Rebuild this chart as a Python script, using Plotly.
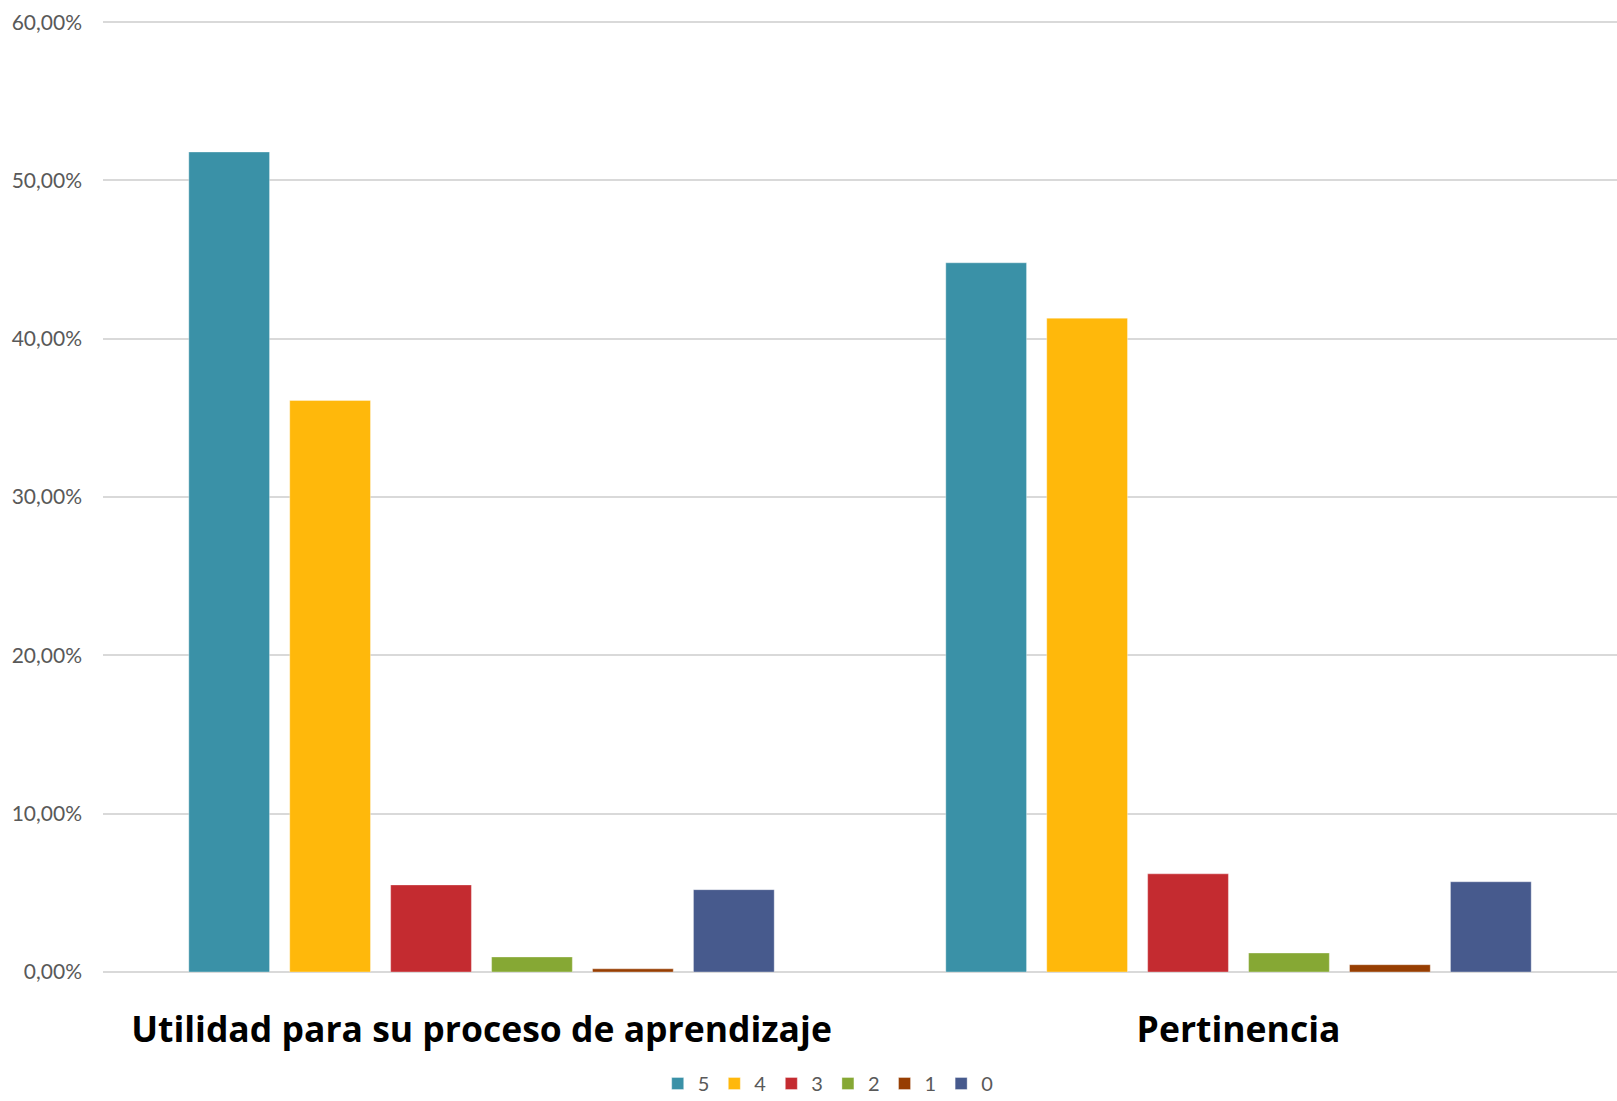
import plotly.graph_objects as go

categories = ["Utilidad para su proceso de aprendizaje", "Pertinencia"]
series_names = ["5", "4", "3", "2", "1", "0"]
values_5 = [0.518, 0.448]
values_4 = [0.361, 0.413]
values_3 = [0.055, 0.062]
values_2 = [0.0095, 0.012]
values_1 = [0.002, 0.0046]
values_0 = [0.052, 0.057]
series_values = [values_5, values_4, values_3, values_2, values_1, values_0]
colors = ["#3A91A7", "#FFB80B", "#C42B30", "#86A834", "#973E02", "#475A8D"]

fig = go.Figure()
for name, vals, col in zip(series_names, series_values, colors):
    fig.add_trace(go.Bar(
        x=categories, y=vals, name=name,
        marker=dict(color=col, line=dict(width=1, color="rgba(255,255,255,0.35)")),
        hoverinfo="skip",
    ))

fig.update_layout(
    width=1617, height=1101,
    margin=dict(l=103, r=0, t=19, b=129, autoexpand=False),
    paper_bgcolor="white", plot_bgcolor="white",
    barmode="group", bargap=0.2, bargroupgap=0.2,
    separators=", ",
    showlegend=True,
    legend=dict(
        orientation="h", x=0.479, xanchor="center", y=-0.117, yanchor="middle",
        font=dict(family="Lato", size=20, color="#595959"),
        itemwidth=30, traceorder="normal",
    ),
    xaxis=dict(
        showgrid=False, showline=False, zeroline=False, ticks="",
        tickfont=dict(family="Open Sans", size=35.5, color="black", weight="bold"),
        ticklabelstandoff=33, automargin=False,
    ),
    yaxis=dict(
        range=[0, 0.602], tickvals=[0, 0.1, 0.2, 0.3, 0.4, 0.5, 0.6], tickformat=".2%",
        showgrid=True, gridcolor="#D9D9D9", gridwidth=1.5,
        zeroline=True, zerolinecolor="#D9D9D9", zerolinewidth=2,
        showline=False, ticks="",
        tickfont=dict(family="Lato", size=21, color="#595959"),
        ticklabelstandoff=20, automargin=False,
    ),
)

fig.write_html(
    "out.html",
    config={"displayModeBar": False},
    post_script="document.body.style.margin='0';document.body.style.overflow='hidden';",
)
